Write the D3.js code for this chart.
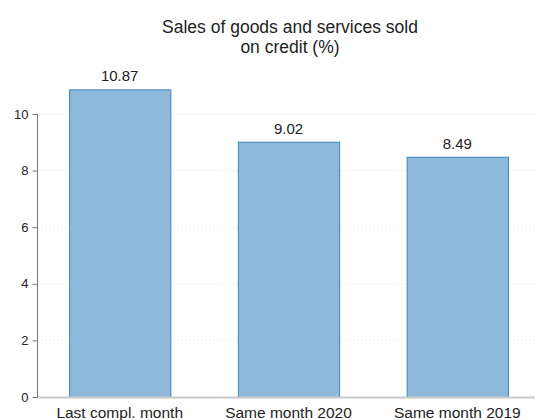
<!DOCTYPE html>
<html><head><meta charset="utf-8">
<script src="https://cdn.jsdelivr.net/npm/d3@7"></script>
<style>body{margin:0;background:#fff;}svg{display:block;font-family:Arial,"Liberation Sans",sans-serif;}</style>
</head><body>
<svg id="c" width="537" height="420"></svg>
<script>
const categories = ["Last compl. month", "Same month 2020", "Same month 2019"];
const values = [10.87, 9.02, 8.49];
const valueLabels = ["10.87", "9.02", "8.49"];
const yTicks = [0, 2, 4, 6, 8, 10];
const titleLines = ["Sales of goods and services sold", "on credit (%)"];

const svg = d3.select("#c");
const x = d3.scaleBand().domain(categories).range([37, 540]).paddingInner(0.4).paddingOuter(0.19);
const y = d3.scaleLinear().domain([0, 10]).range([397, 114]);

// gridlines
svg.append("g").selectAll("line").data(yTicks.filter(d => d > 0)).join("line")
  .attr("x1", 37).attr("x2", 535).attr("y1", d => y(d)).attr("y2", d => y(d))
  .attr("stroke", "#d8d8d8").attr("stroke-width", 1).attr("stroke-dasharray", "1,3");

// bars
svg.append("g").selectAll("rect").data(values).join("rect")
  .attr("x", (d, i) => x(categories[i]) + 0.5)
  .attr("width", x.bandwidth())
  .attr("y", d => y(d) + 0.5)
  .attr("height", d => y(0) - y(d))
  .attr("fill", "#8fb9da").attr("stroke", "#3d85c3").attr("stroke-width", 1);

// baseline
svg.append("line").attr("x1", 37).attr("x2", 535).attr("y1", y(0) + 0.5).attr("y2", y(0) + 0.5)
  .attr("stroke", "#c8c8c8").attr("stroke-width", 2);

// y axis
const ya = svg.append("g").attr("transform", "translate(37.5,0)")
  .call(d3.axisLeft(y).tickValues(yTicks).tickSize(5).tickPadding(4).tickFormat(d3.format("d")));
ya.select(".domain").attr("stroke", "#777").attr("d", `M0,${y(10)}V${y(0)}`);
ya.selectAll(".tick line").attr("stroke", "#777");
ya.selectAll(".tick text").attr("font-size", 13).attr("fill", "#222").attr("font-family", "Arial,'Liberation Sans',sans-serif");

// x labels
svg.append("g").selectAll("text").data(categories).join("text")
  .attr("x", d => x(d) + x.bandwidth() / 2).attr("y", 418)
  .attr("text-anchor", "middle").attr("font-size", 15.5).attr("fill", "#222").text(d => d);

// value labels
svg.append("g").selectAll("text").data(values).join("text")
  .attr("x", (d, i) => x(categories[i]) + x.bandwidth() / 2).attr("y", d => y(d) - 8)
  .attr("text-anchor", "middle").attr("font-size", 15).attr("fill", "#222").text((d, i) => valueLabels[i]);

// title
svg.append("g").selectAll("text").data(titleLines).join("text")
  .attr("x", 290).attr("y", (d, i) => 33 + i * 20)
  .attr("text-anchor", "middle").attr("font-size", 17.5).attr("fill", "#222").text(d => d);
</script>
</body></html>
